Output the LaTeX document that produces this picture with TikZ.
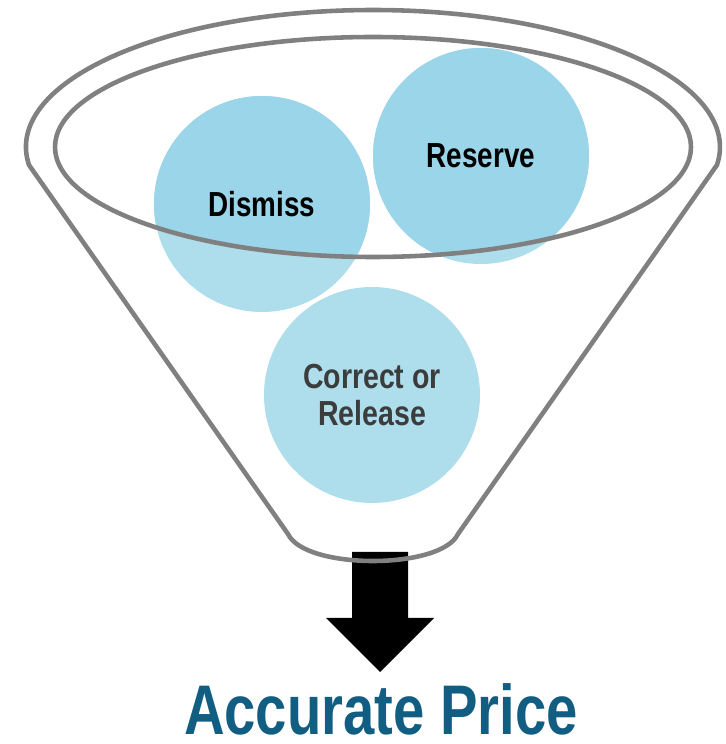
\documentclass[tikz,border=0pt]{standalone}
\usepackage{fontspec}
\usepackage{tikz}
\usetikzlibrary{positioning}
\newfontfamily\narrowbold{Liberation Sans Bold}[FakeStretch=0.80]
\newfontfamily\narrowsemi{Liberation Sans Bold}[FakeStretch=0.82]
\definecolor{funnelgray}{RGB}{128,128,128}
\definecolor{balllight}{RGB}{174,221,236}
\definecolor{balldeep}{RGB}{155,213,233}
\definecolor{pricecol}{RGB}{18,94,130}
\definecolor{textgray}{RGB}{60,60,60}
\tikzset{
    rim/.style={draw=funnelgray, line width=2.6pt, line join=round},
    ball/.style={fill=balllight},
    balltext/.style={font=\narrowbold\fontsize{19.8}{22}\selectfont, text=black, align=center},
    softtext/.style={font=\narrowsemi\fontsize{19.8}{21.5}\selectfont, text=textgray, align=center},
    pricetext/.style={font=\narrowbold\fontsize{40}{44}\selectfont, text=pricecol, inner sep=0pt}
}

\begin{document}
\begin{tikzpicture}[x=0.02cm, y=0.02cm]
                        \fill[white] (0,0) rectangle (725,744);
                        \useasboundingbox (0,0) rectangle (725,744);
                        \coordinate (cdismiss) at (262,540);
                        \coordinate (creserve) at (481,588);
                        \coordinate (ccorrect) at (372,349);
                        \fill[ball] (cdismiss) circle[radius=108];
                        \fill[ball] (creserve) circle[radius=108];
                        \fill[ball] (ccorrect) circle[radius=108];
                        \begin{scope}
                            \clip (373,597) ellipse[x radius=318, y radius=110];
                            \fill[balldeep] (cdismiss) circle[radius=108];
                            \fill[balldeep] (creserve) circle[radius=108];
                        \end{scope}
                        \fill[black] (352,192) -- (408,192) -- (408,126) -- (434,126)
                            -- (380,72) -- (326,126) -- (352,126) -- cycle;
                        \draw[rim] (29,579) arc[start angle=187.55, end angle=-7.55, x radius=347, y radius=137]
                            -- (458,210) .. controls (441,174) and (305,174) .. (288,210) -- cycle;
                        \draw[rim] (373,597) ellipse[x radius=318, y radius=110];
                        \node[balltext] (dismiss) at (cdismiss) {Dismiss};
                        \node[balltext] (reserve) at (creserve) {Reserve};
                        \node[softtext] (correct) at (ccorrect) {Correct or\\Release};
                        \node[pricetext, anchor=base] (price) at (381,10) {Accurate Price};
                    \end{tikzpicture}
\end{document}
